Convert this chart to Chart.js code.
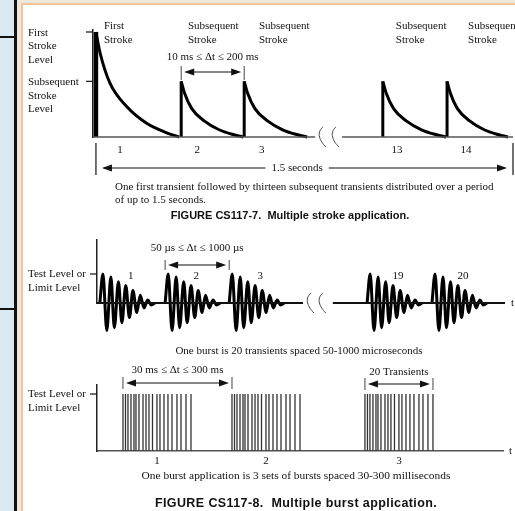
<!DOCTYPE html>
<html lang="en">
<head>
<meta charset="utf-8">
<title>CS117 multiple stroke and burst application</title>
<script src="https://cdn.jsdelivr.net/npm/chart.js@4.4.1/dist/chart.umd.min.js"></script>
<style>
  body { margin: 0; width: 515px; height: 511px; overflow: hidden; background: #fff; position: relative; font-family: "Liberation Serif", "Times New Roman", serif; }
  .side { position: absolute; left: 0; top: 0; width: 14px; height: 511px; background: #dbe9f2; }
  .rule { position: absolute; background: #111; }
  .frame { position: absolute; left: 17px; top: 0; right: 0; bottom: 0; background: #eee8da; }
  .page { position: absolute; left: 21px; top: 3px; right: -5px; bottom: -5px; background: #fff; border-left: 2px solid #f6c49b; border-top: 2px solid #f6c49b; }
  canvas { position: absolute; left: 0; top: 0; }
  .cap { position: absolute; font-size: 11px; line-height: 12px; color: #111; white-space: nowrap; }
  .mid { transform: translateX(-50%); }
  .fig { position: absolute; font: bold 11px/12px "Liberation Sans", Arial, sans-serif; color: #111; white-space: nowrap; transform: translateX(-50%); }
</style>
</head>
<body>
<div class="side"></div>
<div class="rule" style="left:14px;top:0;width:3px;height:511px"></div>
<div class="rule" style="left:0;top:36px;width:15px;height:2px"></div>
<div class="rule" style="left:0;top:308px;width:15px;height:2px"></div>
<div class="frame"></div>
<div class="page"></div>

<canvas id="strokes" width="515" height="511"></canvas>
<canvas id="bursts" width="515" height="511"></canvas>
<canvas id="sets" width="515" height="511"></canvas>

<div class="cap" style="left:115px;top:180px">One first transient followed by thirteen subsequent transients distributed over a period</div>
<div class="cap" style="left:115px;top:193px">of up to 1.5 seconds.</div>
<div class="fig" style="left:290px;top:209px">FIGURE CS117-7.&nbsp; Multiple stroke application.</div>
<div class="cap mid" style="left:299px;top:344px">One burst is 20 transients spaced 50-1000 microseconds</div>
<div class="cap mid" style="left:296px;top:469px;font-size:11.4px">One burst application is 3 sets of bursts spaced 30-300 milliseconds</div>
<div class="fig" style="left:296px;top:497px;font-size:12.5px;letter-spacing:0.4px">FIGURE CS117-8.&nbsp; Multiple burst application.</div>

<script>
// ---- figure CS117-7 : strokes (x in % of the 1.5 s window, y in stroke level)
const strokeLabels = ['1', '2', '3', '13', '14'];
const strokeNames = ['First', 'Subsequent', 'Subsequent', 'Subsequent', 'Subsequent'];
const strokeStart = [0.7, 21, 36, 69, 84.3];
const strokeEnd = [20.5, 35.8, 51, 84.1, 98.8];
const strokePeak = [1, 0.53, 0.53, 0.53, 0.53];
const strokeLabelX = [6.4, 24.8, 40.2, 72.4, 88.8];
const strokeNameX = [2.6, 22.6, 39.5, 72.1, 89.3];
const strokeLevels = [1, 0.53];
const strokeLevelNames = [['First', 'Stroke', 'Level'], ['Subsequent', 'Stroke', 'Level']];
const decayT = [0, 0.05, 0.17, 0.37, 0.61, 0.85, 1];
const decayV = [1, 0.8, 0.51, 0.29, 0.13, 0.04, 0];
const strokeGap = [52.9, 59.3];
const strokeSquiggle = [54.5, 57.6];

// ---- figure CS117-8 top : damped sine bursts
const burstLabels = ['1', '2', '3', '19', '20'];
const burstStart = [0.7, 16.7, 32.4, 66.2, 82.1];
const ringT = [0, 0.75, 1.7, 2.7, 3.55, 4.55, 5.4, 6.35, 7.25, 8.1, 9.05, 9.9, 10.8, 11.75, 12.6, 13.5];
const ringV = [0, 1, -0.95, 0.9, -0.85, 0.73, -0.68, 0.6, -0.5, 0.43, -0.33, 0.27, -0.17, 0.1, -0.07, 0];
const burstGap = [50.5, 57.8];
const burstSquiggle = [52.2, 55.1];

// ---- figure CS117-8 bottom : three sets of 20 transients
const setLabels = ['1', '2', '3'];
const setStart = [6.4, 33.25, 66];
const pulseT = [0, 0.62, 1.23, 1.97, 2.71, 3.2, 3.94, 4.93, 5.67, 6.4, 7.27, 8.37, 9.11, 10.1, 11.08, 12.07, 13.3, 14.29, 15.52, 16.75];

const FONT = '11px "Liberation Serif", "Times New Roman", serif';

function seg(ctx, x1, y1, x2, y2, w, c) {
  ctx.beginPath();
  ctx.lineWidth = w || 1;
  ctx.strokeStyle = c || '#111';
  ctx.moveTo(x1, y1);
  ctx.lineTo(x2, y2);
  ctx.stroke();
}
function head(ctx, x, y, dir) {
  ctx.beginPath();
  ctx.fillStyle = '#111';
  ctx.moveTo(x, y);
  ctx.lineTo(x - dir * 10, y - 3.5);
  ctx.lineTo(x - dir * 10, y + 3.5);
  ctx.closePath();
  ctx.fill();
}
function span(ctx, x1, x2, y, up, down) {
  seg(ctx, x1, y - up, x1, y + down, 1, '#444');
  seg(ctx, x2, y - up, x2, y + down, 1, '#444');
  seg(ctx, x1 + 6, y, x2 - 6, y, 1.2);
  head(ctx, x1 + 3, y, -1);
  head(ctx, x2 - 3, y, 1);
}
function say(ctx, lines, x, y, align, lh) {
  ctx.font = FONT;
  ctx.fillStyle = '#111';
  ctx.textAlign = align || 'left';
  ctx.textBaseline = 'middle';
  [].concat(lines).forEach(function(t, i) { ctx.fillText(t, x, y + i * (lh || 13.5)); });
}
function squiggle(ctx, x, y) {
  ctx.beginPath();
  ctx.lineWidth = 1;
  ctx.strokeStyle = '#444';
  ctx.moveTo(x + 1, y - 10);
  ctx.bezierCurveTo(x - 6, y - 4, x - 2, y + 4, x + 4, y + 10);
  ctx.stroke();
}

function lineSet(points, width, color, extra) {
  return Object.assign({ data: points, borderColor: color || '#000', borderWidth: width, pointRadius: 0, clip: false, tension: 0, borderCapStyle: 'butt' }, extra || {});
}
function gapLine(gap) {
  return [{ x: 0, y: 0 }, { x: gap[0], y: 0 }, { x: (gap[0] + gap[1]) / 2, y: null }, { x: gap[1], y: 0 }, { x: 100, y: 0 }];
}
function baseOptions(pad, ymax, showX) {
  return {
    responsive: false, animation: false, devicePixelRatio: 1, events: [],
    layout: { padding: pad },
    plugins: { legend: { display: false }, tooltip: { enabled: false } },
    scales: {
      x: { type: 'linear', min: 0, max: 100, display: showX, ticks: { display: false },
           grid: { display: false, drawTicks: false }, border: { display: showX, color: '#555', width: 1.5 } },
      y: { type: 'linear', min: 0, max: ymax, ticks: { display: false },
           grid: { display: false, drawTicks: false }, border: { display: true, color: '#222', width: 1.5 } }
    }
  };
}

// ---------- chart 1
const strokeSets = [lineSet(gapLine(strokeGap), 1.5, '#555')];
strokeStart.forEach(function(s, i) {
  const dur = strokeEnd[i] - s;
  strokeSets.push(lineSet([{ x: s, y: 0 }, { x: s, y: strokePeak[i] }], i === 0 ? 4.5 : 3));
  strokeSets.push(lineSet(decayT.map(function(t, k) { return { x: s + t * dur, y: decayV[k] * strokePeak[i] }; }), 3, '#000', { cubicInterpolationMode: 'monotone' }));
});

const strokeNotes = {
  id: 'strokeNotes',
  afterDatasetsDraw(chart) {
    const { ctx, chartArea: a, scales: { x, y } } = chart;
    const base = y.getPixelForValue(0);
    ctx.save();
    strokeLevels.forEach(function(v, i) {
      const p = y.getPixelForValue(v);
      seg(ctx, a.left - 7, p, a.left, p, 1.2);
      say(ctx, strokeLevelNames[i], 28, p + 1);
    });
    strokeNames.forEach(function(n, i) { say(ctx, [n, 'Stroke'], x.getPixelForValue(strokeNameX[i]), a.top - 4, 'left', 14); });
    strokeLabels.forEach(function(l, i) { say(ctx, l, x.getPixelForValue(strokeLabelX[i]), base + 13, 'center'); });
    strokeSquiggle.forEach(function(v) { squiggle(ctx, x.getPixelForValue(v), base); });

    const d1 = x.getPixelForValue(strokeStart[1]), d2 = x.getPixelForValue(strokeStart[2]);
    span(ctx, d1, d2, a.top + 42, 6, 8);
    say(ctx, '10 ms \u2264 \u0394t \u2264 200 ms', (d1 + d2) / 2, a.top + 27, 'center');

    const s0 = x.getPixelForValue(strokeStart[0]), s1 = x.getPixelForValue(100);
    const ay = base + 31, tx = x.getPixelForValue(48.6);
    ctx.font = FONT;
    const tw = ctx.measureText('1.5 seconds').width;
    seg(ctx, s0, base + 6, s0, base + 38, 1.5, '#444');
    seg(ctx, s1, base + 6, s1, base + 38, 1.5, '#444');
    seg(ctx, s0 + 8, ay, tx - tw / 2 - 6, ay, 1.2);
    seg(ctx, tx + tw / 2 + 6, ay, s1 - 8, ay, 1.2);
    head(ctx, s0 + 6, ay, -1);
    head(ctx, s1 - 6, ay, 1);
    say(ctx, '1.5 seconds', tx, ay, 'center');
    ctx.restore();
  }
};

new Chart(document.getElementById('strokes'), {
  type: 'line',
  data: { datasets: strokeSets },
  options: baseOptions({ left: 93, right: 2, top: 30, bottom: 374 }, 1.019, false),
  plugins: [strokeNotes]
});

// ---------- chart 2
const burstSets = [lineSet(gapLine(burstGap), 2, '#111')];
burstStart.forEach(function(s) {
  burstSets.push(lineSet(ringT.map(function(t, k) { return { x: s + t, y: ringV[k] }; }), 3, '#000', { cubicInterpolationMode: 'monotone' }));
});

const burstNotes = {
  id: 'burstNotes',
  afterDatasetsDraw(chart) {
    const { ctx, chartArea: a, scales: { x, y } } = chart;
    const base = y.getPixelForValue(0), lvl = y.getPixelForValue(1);
    ctx.save();
    seg(ctx, a.left - 7, lvl, a.left, lvl, 1.2);
    say(ctx, ['Test Level or', 'Limit Level'], 28, lvl, 'left', 14.5);
    burstLabels.forEach(function(l, i) { say(ctx, l, x.getPixelForValue(burstStart[i] + 7.6), lvl + 2, 'center'); });
    burstSquiggle.forEach(function(v) { squiggle(ctx, x.getPixelForValue(v), base); });
    const d1 = x.getPixelForValue(burstStart[1]), d2 = x.getPixelForValue(burstStart[2]);
    span(ctx, d1, d2, a.top + 25, 5, 5);
    say(ctx, '50 \u00b5s \u2264 \u0394t \u2264 1000 \u00b5s', (d1 + d2) / 2, a.top + 8, 'center');
    say(ctx, 't', a.right + 6, base, 'left');
    ctx.restore();
  }
};

new Chart(document.getElementById('bursts'), {
  type: 'line',
  data: { datasets: burstSets },
  options: baseOptions({ left: 97, right: 10, top: 240, bottom: 208 }, 2.172, false),
  plugins: [burstNotes]
});

// ---------- chart 3
const pulsePoints = [];
setStart.forEach(function(s) {
  pulseT.forEach(function(t) {
    pulsePoints.push({ x: s + t, y: 0 }, { x: s + t, y: 1 }, { x: s + t, y: null });
  });
});

const setNotes = {
  id: 'setNotes',
  afterDatasetsDraw(chart) {
    const { ctx, chartArea: a, scales: { x, y } } = chart;
    const base = y.getPixelForValue(0), lvl = y.getPixelForValue(1);
    ctx.save();
    seg(ctx, a.left - 7, lvl, a.left, lvl, 1.2);
    say(ctx, ['Test Level or', 'Limit Level'], 28, lvl, 'left', 14);
    setLabels.forEach(function(l, i) { say(ctx, l, x.getPixelForValue(setStart[i] + pulseT[pulseT.length - 1] / 2), base + 10, 'center'); });
    const d1 = x.getPixelForValue(setStart[0]), d2 = x.getPixelForValue(setStart[1]);
    span(ctx, d1, d2, a.top - 2, 6, 6);
    say(ctx, '30 ms \u2264 \u0394t \u2264 300 ms', (d1 + d2) / 2, a.top - 15, 'center');
    const e1 = x.getPixelForValue(setStart[2]), e2 = x.getPixelForValue(setStart[2] + pulseT[pulseT.length - 1]);
    span(ctx, e1, e2, a.top - 1, 6, 6);
    say(ctx, '20 Transients', (e1 + e2) / 2, a.top - 13, 'center');
    say(ctx, 't', a.right + 6, base, 'left');
    ctx.restore();
  }
};

new Chart(document.getElementById('sets'), {
  type: 'line',
  data: { datasets: [lineSet(pulsePoints, 1.3, '#333')] },
  options: baseOptions({ left: 97, right: 12, top: 385, bottom: 60 }, 1.158, true),
  plugins: [setNotes]
});
</script>
</body>
</html>
